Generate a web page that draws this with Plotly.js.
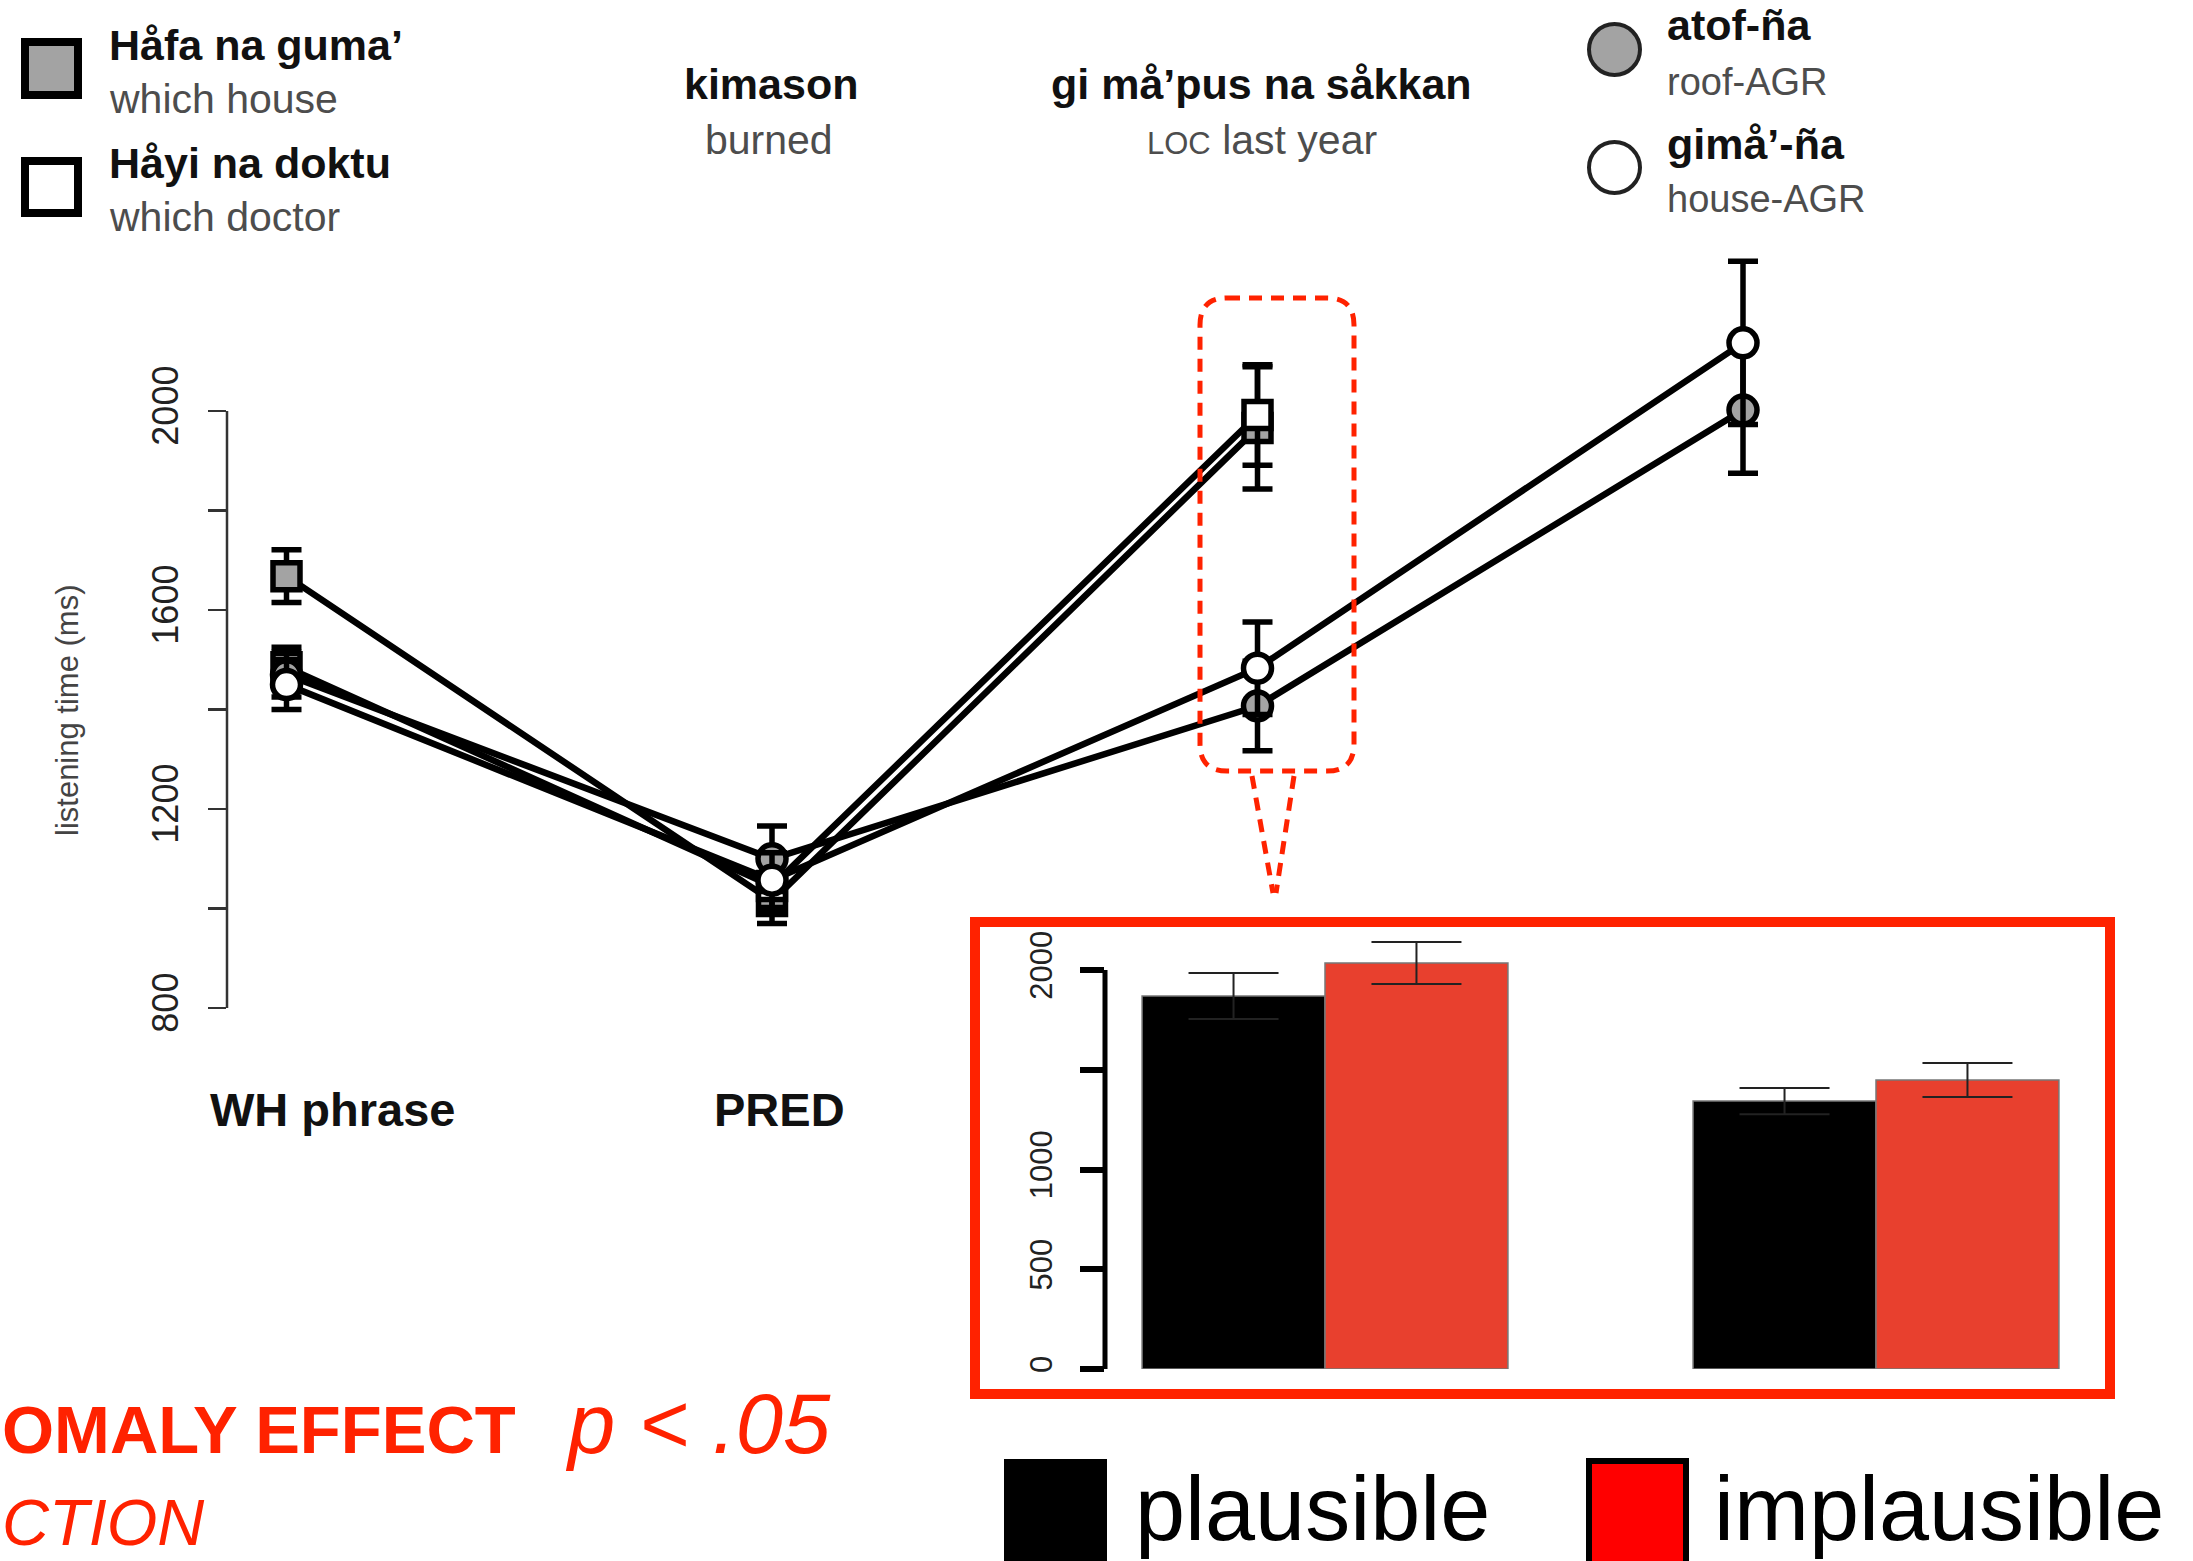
<!DOCTYPE html>
<html><head><meta charset="utf-8">
<script src="https://cdn.plot.ly/plotly-3.0.1.min.js"></script>
<style>html,body{margin:0;padding:0;background:#fff}#chart{width:2193px;height:1561px}</style>
</head><body><div id="chart"></div>
<script>
const W = 2193, H = 1561;

// ---------- data ----------
const positions = [1, 2, 3, 4];
const hafaY   = [1668, 1015, 1966];
const hafaErr = [53, 45, 123];
const hayiY   = [1485, 1045, 1992];
const hayiErr = [40, 50, 101];
const atofY   = [1470, 1100, 1407, 2002];
const atofErr = [45, 66, 90, 127];
const gimaY   = [1450, 1057, 1483, 2137];
const gimaErr = [50, 55, 93, 164];

const insetGroups    = [1, 2];
const plausibleY     = [1870, 1343];
const plausibleErr   = [115, 66];
const implausibleY   = [2035, 1449];
const implausibleErr = [105, 85];

const mainTickVals  = [800, 1000, 1200, 1400, 1600, 1800, 2000];
const mainTickText  = ['800', '', '1200', '', '1600', '', '2000'];
const insetTickVals = [0, 500, 1000, 1500, 2000];
const insetTickText = ['0', '500', '1000', '', '2000'];

const legendLeft  = [['Håfa na guma’', 'which house'], ['Håyi na doktu', 'which doctor']];
const legendRight = [['atof-ña', 'roof-AGR'], ['gimå’-ña', 'house-AGR']];
const headers     = [['kimason', 'burned'], ['gi må’pus na såkkan', '<span style="font-size:31px">LOC</span> last year']];
const bottomLabels = ['WH phrase', 'PRED'];
const yTitle = 'listening time (ms)';

// ---------- helpers ----------
const X = v => v / W;
const Y = v => 1 - v / H;
const GRAY = '#a3a3a3';
const RED = '#ff2200';

function series(y, err, symbol, fill) {
  return {
    type: 'scatter', mode: 'lines+markers',
    x: positions.slice(0, y.length), y: y,
    error_y: {type: 'data', array: err, visible: true, thickness: 5.5, width: 15, color: '#000'},
    line: {color: '#000', width: 6.5},
    marker: {symbol: symbol, size: symbol === 'square' ? 27 : 28, color: fill, line: {color: '#000', width: 5.5}},
    xaxis: 'x', yaxis: 'y', showlegend: false, hoverinfo: 'skip', cliponaxis: false
  };
}

const traces = [
  series(hafaY, hafaErr, 'square', GRAY),
  series(hayiY, hayiErr, 'square', '#fff'),
  series(atofY, atofErr, 'circle', GRAY),
  series(gimaY, gimaErr, 'circle', '#fff'),
  {type: 'bar', x: insetGroups, y: plausibleY, xaxis: 'x2', yaxis: 'y2',
   marker: {color: '#000', line: {color: '#777', width: 1.5}},
   error_y: {type: 'data', array: plausibleErr, thickness: 2, width: 45, color: '#222'},
   showlegend: false, hoverinfo: 'skip'},
  {type: 'bar', x: insetGroups, y: implausibleY, xaxis: 'x2', yaxis: 'y2',
   marker: {color: '#e8402e', line: {color: '#777', width: 1.5}},
   error_y: {type: 'data', array: implausibleErr, thickness: 2, width: 45, color: '#222'},
   showlegend: false, hoverinfo: 'skip'}
];

// ---------- geometry ----------
const x1px = 286.5, stepPx = 485.5, mainLeft = 227, mainRight = 1927;
const mainTop = 230, mainBottom = 1008, pxPerMs = 0.4975;
const inL = 1105, inR = 2100, g1px = 1325, gStep = 551, inTop = 930, inBottom = 1369, inPx = 0.1995;

function rr(x0, y0, x1, y1, r) {
  return `M${X(x0 + r)},${Y(y0)} L${X(x1 - r)},${Y(y0)} Q${X(x1)},${Y(y0)} ${X(x1)},${Y(y0 + r)} ` +
         `L${X(x1)},${Y(y1 - r)} Q${X(x1)},${Y(y1)} ${X(x1 - r)},${Y(y1)} L${X(x0 + r)},${Y(y1)} ` +
         `Q${X(x0)},${Y(y1)} ${X(x0)},${Y(y1 - r)} L${X(x0)},${Y(y0 + r)} Q${X(x0)},${Y(y0)} ${X(x0 + r)},${Y(y0)} Z`;
}

const shapes = [
  {type: 'line', xref: 'x domain', yref: 'y', x0: 0, x1: 0, y0: 800, y1: 2000, line: {color: '#333', width: 2.5}},
  {type: 'line', xref: 'x2 domain', yref: 'y2', x0: 0, x1: 0, y0: 0, y1: 2000, line: {color: '#000', width: 5}},
  {type: 'rect', xref: 'paper', yref: 'paper', x0: X(975), x1: X(2110), y0: Y(922), y1: Y(1394), line: {color: RED, width: 10}},
  {type: 'path', xref: 'paper', yref: 'paper', path: rr(1200, 298, 1354, 771, 27), line: {color: RED, width: 5, dash: '13px,9px'}},
  {type: 'line', xref: 'paper', yref: 'paper', x0: X(1252), y0: Y(776), x1: X(1273), y1: Y(893), line: {color: RED, width: 5, dash: '13px,9px'}},
  {type: 'line', xref: 'paper', yref: 'paper', x0: X(1294), y0: Y(776), x1: X(1276), y1: Y(893), line: {color: RED, width: 5, dash: '13px,9px'}},
  // top-left legend squares
  {type: 'rect', xref: 'paper', yref: 'paper', x0: X(25), x1: X(78), y0: Y(42), y1: Y(95), fillcolor: GRAY, line: {color: '#000', width: 8}},
  {type: 'rect', xref: 'paper', yref: 'paper', x0: X(25), x1: X(78), y0: Y(161), y1: Y(213), fillcolor: '#fff', line: {color: '#000', width: 8}},
  // top-right legend circles
  {type: 'circle', xref: 'paper', yref: 'paper', x0: X(1589), x1: X(1640), y0: Y(24), y1: Y(75), fillcolor: GRAY, line: {color: '#222', width: 4}},
  {type: 'circle', xref: 'paper', yref: 'paper', x0: X(1589), x1: X(1640), y0: Y(142), y1: Y(193), fillcolor: '#fff', line: {color: '#222', width: 4}},
  // bottom legend
  {type: 'rect', xref: 'paper', yref: 'paper', x0: X(1004), x1: X(1107), y0: Y(1459), y1: Y(1570), fillcolor: '#000', line: {width: 0}},
  {type: 'rect', xref: 'paper', yref: 'paper', x0: X(1589), x1: X(1686), y0: Y(1461), y1: Y(1570), fillcolor: '#ff0000', line: {color: '#000', width: 6}}
];

function ann(text, xpx, ypx, size, color, anchor, extra) {
  return Object.assign({text: text, xref: 'paper', yref: 'paper', x: X(xpx), y: Y(ypx), showarrow: false,
    xanchor: anchor, yanchor: 'middle', font: {size: size, color: color}}, extra || {});
}
const BOLD = '#111', SUB = '#4d4d4d';
const annotations = [
  ann('<b>' + legendLeft[0][0] + '</b>', 107, 45, 43, BOLD, 'left'),
  ann(legendLeft[0][1], 107, 99, 41, SUB, 'left'),
  ann('<b>' + legendLeft[1][0] + '</b>', 107, 163, 43, BOLD, 'left'),
  ann(legendLeft[1][1], 107, 217, 41, SUB, 'left'),
  ann('<b>' + legendRight[0][0] + '</b>', 1665, 25, 43, BOLD, 'left'),
  ann(legendRight[0][1], 1665, 82, 38, SUB, 'left'),
  ann('<b>' + legendRight[1][0] + '</b>', 1665, 144, 43, BOLD, 'left'),
  ann(legendRight[1][1], 1665, 199, 38, SUB, 'left'),
  ann('<b>' + headers[0][0] + '</b>', 771, 84, 43, BOLD, 'center'),
  ann(headers[0][1], 769, 140, 41, SUB, 'center'),
  ann('<b>' + headers[1][0] + '</b>', 1261, 84, 43, BOLD, 'center'),
  ann(headers[1][1], 1262, 140, 41, SUB, 'center'),
  ann('<b>' + bottomLabels[0] + '</b>', 333, 1109, 47, BOLD, 'center'),
  ann('<b>' + bottomLabels[1] + '</b>', 779, 1109, 47, BOLD, 'center'),
  ann(yTitle, 67, 710, 31, '#444', 'center', {textangle: -90}),
  ann('<b>OMALY EFFECT</b>', 0, 1429, 67, RED, 'left'),
  ann('<i>p &lt; .05</i>', 563, 1423, 85, RED, 'left'),
  ann('<i>CTION</i>', 0, 1522, 65, RED, 'left'),
  ann('plausible', 1133, 1509, 90, '#000', 'left'),
  ann('implausible', 1712, 1509, 90, '#000', 'left')
];

const layout = {
  width: W, height: H, margin: {l: 0, r: 0, t: 0, b: 0},
  paper_bgcolor: '#fff', plot_bgcolor: 'rgba(0,0,0,0)', showlegend: false,
  barmode: 'group', bargap: 0.336, bargroupgap: 0,
  font: {family: 'Liberation Sans, Arial, Helvetica, sans-serif', color: '#000'},
  xaxis: {domain: [X(mainLeft), X(mainRight)], range: [1 - (x1px - mainLeft) / stepPx, 1 + (mainRight - x1px) / stepPx],
          visible: false, fixedrange: true},
  yaxis: {domain: [Y(mainBottom), Y(mainTop)], range: [800, 800 + (mainBottom - mainTop) / pxPerMs],
          showgrid: false, zeroline: false, showline: false, ticks: 'outside', ticklen: 18, tickwidth: 2.5, tickcolor: '#333',
          tickmode: 'array', tickvals: mainTickVals, ticktext: mainTickText, tickangle: -90,
          tickfont: {size: 36, color: '#222'}, ticklabelstandoff: 16, fixedrange: true},
  xaxis2: {domain: [X(inL), X(inR)], range: [1 - (g1px - inL) / gStep, 2 + (inR - g1px - gStep) / gStep],
           visible: false, anchor: 'y2', fixedrange: true},
  yaxis2: {domain: [Y(inBottom), Y(inTop)], range: [0, (inBottom - inTop) / inPx], anchor: 'x2',
           showgrid: false, zeroline: false, showline: false, ticks: 'outside', ticklen: 24, tickwidth: 6, tickcolor: '#000',
           tickmode: 'array', tickvals: insetTickVals, ticktext: insetTickText, tickangle: -90,
           tickfont: {size: 31, color: '#222'}, ticklabelstandoff: 16, fixedrange: true},
  shapes: shapes,
  annotations: annotations
};

Plotly.newPlot('chart', traces, layout, {staticPlot: true, displayModeBar: false});
</script>
</body></html>
